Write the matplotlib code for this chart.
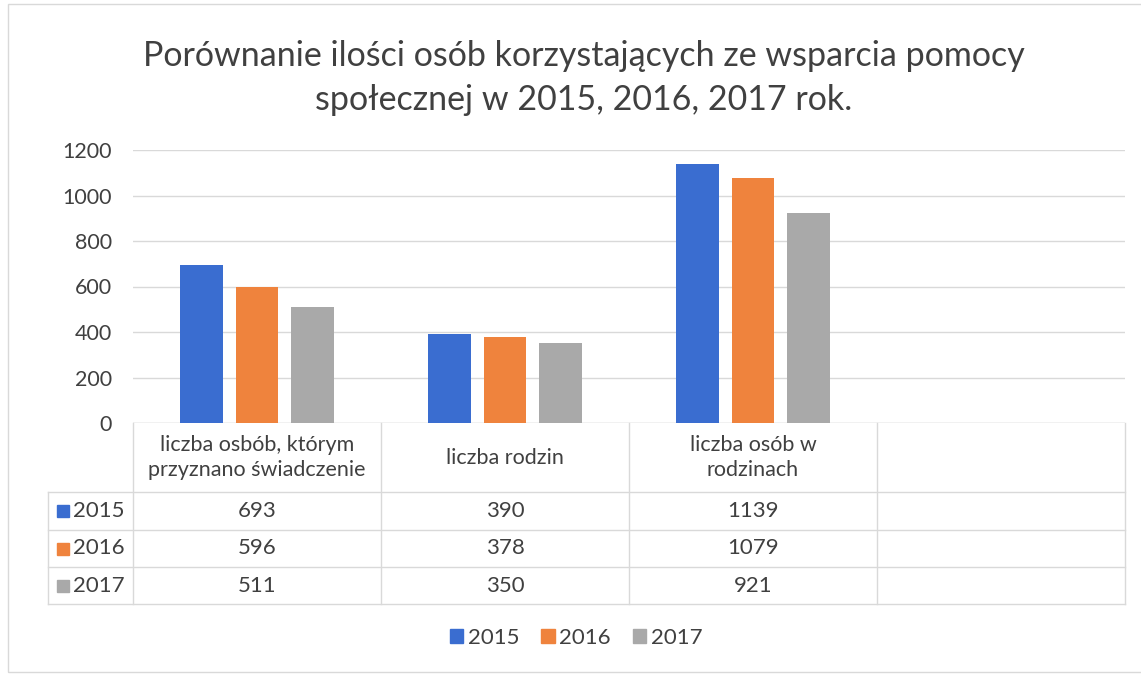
import matplotlib
matplotlib.use('Agg')
from matplotlib import pyplot as plt
from matplotlib.patches import Patch, Rectangle
from matplotlib.transforms import blended_transform_factory
import numpy as np

plt.rcParams['font.family'] = ['Lato', 'DejaVu Sans']

title = 'Porównanie ilości osób korzystających ze wsparcia pomocy\nspołecznej w 2015, 2016, 2017 rok.'
categories = ['liczba osbób, którym\nprzyznano świadczenie', 'liczba rodzin', 'liczba osób w\nrodzinach']
years = ['2015', '2016', '2017']
v2015 = [693, 390, 1139]
v2016 = [596, 378, 1079]
v2017 = [511, 350, 921]
series = [v2015, v2016, v2017]
colors = ['#3a6dd0', '#ef833d', '#a9a9a9']
n_cols = 4  # the source table has one extra, empty column

W, H = 1141, 676
text_c = '#404040'
line_c = '#d9d9d9'

def fx(px):
    return px / W

def fy(py):
    return 1 - py / H

fig = plt.figure(figsize=(W / 100, H / 100), dpi=100)
fig.patches.append(Rectangle((fx(8), fy(672)), fx(1200 - 8), fy(4) - fy(672),
                             transform=fig.transFigure, fill=False,
                             edgecolor='#d9d9d9', lw=1))

ax = fig.add_axes([fx(133), fy(423), fx(1125 - 133), fy(150) - fy(423)])
x = np.arange(len(categories))
bw = 0.173
step = 0.222
for i, (vals, c) in enumerate(zip(series, colors)):
    ax.bar(x + (i - 1) * step, vals, width=bw, color=c, zorder=3)

ax.set_xlim(-0.5, n_cols - 0.5)
ax.set_ylim(0, 1200)
ax.set_yticks(range(0, 1201, 200))
ax.yaxis.grid(True, color=line_c, lw=1, zorder=0)
ax.set_xticks([])
for s in ax.spines.values():
    s.set_visible(False)
ax.axhline(0, color=line_c, lw=1, zorder=2)
ax.tick_params(axis='y', length=0, pad=15, labelsize=15.5, labelcolor=text_c)

fig.text(fx(584), fy(78), title, ha='center', va='center', fontsize=24.5,
         color=text_c, linespacing=1.5)

# data table below the plot
tr = blended_transform_factory(ax.transData, fig.transFigure)
row_y = [423, 492, 530, 567, 604]
for py in row_y[1:]:
    fig.add_artist(plt.Line2D([fx(48), fx(1125)], [fy(py), fy(py)],
                              transform=fig.transFigure, color=line_c, lw=1))
for k in range(n_cols + 1):
    fig.add_artist(plt.Line2D([k - 0.5, k - 0.5], [fy(row_y[0]), fy(row_y[-1])],
                              transform=tr, color=line_c, lw=1))
fig.add_artist(plt.Line2D([fx(48), fx(48)], [fy(row_y[1]), fy(row_y[-1])],
                          transform=fig.transFigure, color=line_c, lw=1))

for i, cat in enumerate(categories):
    fig.text(i, fy((row_y[0] + row_y[1]) / 2), cat, transform=tr, ha='center',
             va='center', fontsize=15.5, color=text_c, linespacing=1.35)

for r, (yr, vals, c) in enumerate(zip(years, series, colors)):
    ymid = fy((row_y[r + 1] + row_y[r + 2]) / 2)
    fig.patches.append(Rectangle((fx(57), ymid - 6 / H), 12 / W, 12 / H,
                                 transform=fig.transFigure, color=c))
    fig.text(fx(73), ymid, yr, ha='left', va='center', fontsize=16, color=text_c)
    for i, v in enumerate(vals):
        fig.text(i, ymid, str(v), transform=tr, ha='center', va='center',
                 fontsize=16, color=text_c)

handles = [Patch(color=c, label=yr) for c, yr in zip(colors, years)]
fig.legend(handles=handles, loc='center', bbox_to_anchor=(fx(576), fy(638)),
           ncol=3, frameon=False, fontsize=16, handlelength=0.6, handleheight=0.6,
           handletextpad=0.2, columnspacing=1.0, labelcolor=text_c)

fig.savefig('out.png', dpi=100, facecolor='white')
